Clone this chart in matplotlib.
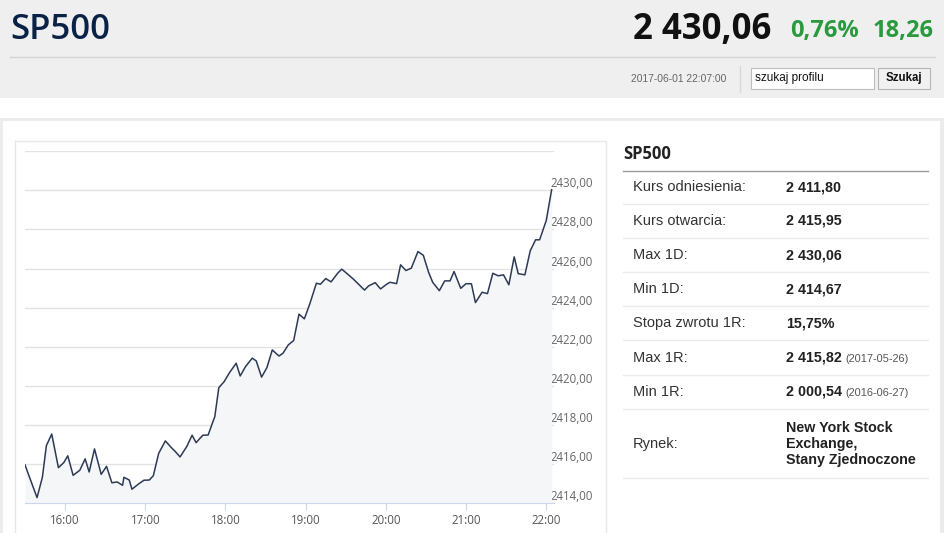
import matplotlib
matplotlib.use("Agg")
import matplotlib.pyplot as plt
from matplotlib.patches import Rectangle
from matplotlib.lines import Line2D

W, H = 945, 533

# intraday quotes, 2017-06-01
times = ["15:30", "15:39", "15:43", "15:46", "15:50", "15:55", "15:59", "16:02", "16:06", "16:11",
         "16:15", "16:18", "16:22", "16:27", "16:31", "16:35", "16:39", "16:43", "16:44", "16:48",
         "16:50", "16:55", "16:59", "17:03", "17:06", "17:10", "17:15", "17:20", "17:22", "17:26",
         "17:31", "17:35", "17:38", "17:43", "17:47", "17:50", "17:52", "17:55", "17:59", "18:03",
         "18:08", "18:11", "18:15", "18:20", "18:23", "18:27", "18:31", "18:35", "18:40", "18:43",
         "18:47", "18:51", "18:55", "18:59", "19:03", "19:08", "19:11", "19:15", "19:19", "19:24",
         "19:27", "19:32", "19:36", "19:40", "19:44", "19:47", "19:52", "19:56", "20:00", "20:03",
         "20:08", "20:11", "20:15", "20:19", "20:24", "20:28", "20:32", "20:35", "20:40", "20:44",
         "20:48", "20:51", "20:56", "21:00", "21:04", "21:07", "21:12", "21:16", "21:20", "21:24",
         "21:28", "21:32", "21:36", "21:39", "21:44", "21:48", "21:52", "21:55", "22:00", "22:04"]
prices = [2415.96, 2414.29, 2415.33, 2416.95, 2417.54, 2415.82, 2416.08, 2416.43, 2415.43, 2415.69,
          2416.27, 2415.60, 2416.78, 2415.48, 2415.89, 2415.05, 2415.09, 2414.92, 2415.33, 2415.19,
          2414.72, 2414.99, 2415.18, 2415.19, 2415.41, 2416.55, 2417.19, 2416.81, 2416.68, 2416.37,
          2416.90, 2417.48, 2417.10, 2417.48, 2417.49, 2418.06, 2418.43, 2419.91, 2420.22, 2420.68,
          2421.16, 2420.51, 2420.99, 2421.42, 2421.28, 2420.45, 2420.94, 2421.84, 2421.53, 2421.67,
          2422.10, 2422.32, 2423.67, 2423.43, 2424.18, 2425.25, 2425.20, 2425.49, 2425.32, 2425.77,
          2425.97, 2425.68, 2425.44, 2425.17, 2424.90, 2425.11, 2425.28, 2424.96, 2425.17, 2425.30,
          2425.23, 2426.19, 2425.90, 2426.02, 2426.87, 2426.68, 2425.80, 2425.30, 2424.87, 2425.37,
          2425.37, 2425.85, 2424.99, 2425.23, 2425.22, 2424.26, 2424.79, 2424.72, 2425.76, 2425.63,
          2425.68, 2425.17, 2426.60, 2425.74, 2425.68, 2426.91, 2427.47, 2427.47, 2428.46, 2430.03]

hour_ticks = [16, 17, 18, 19, 20, 21, 22]
price_ticks = [2414, 2416, 2418, 2420, 2422, 2424, 2426, 2428, 2430]

name = "SP500"
last_price = "2 430,06"
change_pct = "0,76%"
change_abs = "18,26"
stamp = "2017-06-01 22:07:00"

row_labels = ["Kurs odniesienia:", "Kurs otwarcia:", "Max 1D:", "Min 1D:",
              "Stopa zwrotu 1R:", "Max 1R:", "Min 1R:", "Rynek:"]
row_values = ["2 411,80", "2 415,95", "2 430,06", "2 414,67", "15,75%",
              "2 415,82", "2 000,54", "New York Stock\nExchange,\nStany Zjednoczone"]
row_dates = ["", "", "", "", "", "(2017-05-26)", "(2016-06-27)", ""]


def to_hours(t):
    h, m = t.split(":")
    return int(h) + int(m) / 60


def box(x, y, w, h, **kw):
    fig.add_artist(Rectangle((x / W, 1 - (y + h) / H), w / W, h / H,
                             transform=fig.transFigure, **kw))


def hline(x0, x1, y, **kw):
    fig.add_artist(Line2D([x0 / W, x1 / W], [1 - y / H, 1 - y / H],
                          transform=fig.transFigure, **kw))


def vline(x, y0, y1, **kw):
    fig.add_artist(Line2D([x / W, x / W], [1 - y0 / H, 1 - y1 / H],
                          transform=fig.transFigure, **kw))


def txt(x, y, s, **kw):
    kw.setdefault("va", "center")
    return fig.text(x / W, 1 - y / H, s, **kw)


fig = plt.figure(figsize=(W / 100, H / 100), dpi=100)
fig.patch.set_facecolor("white")

# header
box(0, 0, W, 98, facecolor="#efefef", edgecolor="none")
hline(10, 935, 57, color="#d4d4d4", lw=1)
txt(10, 30, name, fontsize=25, fontweight="semibold", color="#0b2247", family="Open Sans")
txt(633, 30, last_price, fontsize=25, fontweight="bold", color="#111111", family="Open Sans")
txt(790, 31, change_pct, fontsize=17, fontweight="bold", color="#2a9a3f", family="Open Sans")
txt(873, 31, change_abs, fontsize=17, fontweight="bold", color="#2a9a3f", family="Open Sans")
txt(631, 79, stamp, fontsize=7.4, color="#666666", family="Liberation Sans")
vline(740, 66, 92, color="#d8d8d8", lw=1)
box(751, 68, 123, 21, facecolor="white", edgecolor="#bdbdbd", lw=0.8)
txt(755, 78.5, "szukaj profilu", fontsize=8.5, color="#111111", family="Liberation Sans")
box(878, 68, 52, 21, facecolor="#f1f1f1", edgecolor="#b5b5b5", lw=0.8)
txt(904, 78.5, "Szukaj", fontsize=8.3, fontweight="bold", color="#111111",
    family="Liberation Sans", ha="center")

# card frame
box(0, 118, W, 3, facecolor="#ececec", edgecolor="none")
box(0, 118, 3, H - 118, facecolor="#ececec", edgecolor="none")
box(940, 118, 5, H - 118, facecolor="#ececec", edgecolor="none")
hline(15, 606, 141, color="#e8e8e8", lw=1)
vline(15, 141, H, color="#e8e8e8", lw=1)
vline(606, 141, H, color="#e8e8e8", lw=1)

# chart
ax = fig.add_axes([25 / W, 1 - 503.3 / H, 529.3 / W, 352.1 / H])
xs = [to_hours(t) for t in times]
ax.fill_between(xs, prices, 2414, color="#f5f6f8", lw=0)
ax.plot(xs, prices, color="#2d3a55", lw=1.1)
ax.set_xlim(15.5, 22.1)
ax.set_ylim(2414, 2432)
ax.set_yticks(price_ticks + [2432])
ax.set_yticklabels([f"{p},00" for p in price_ticks] + [""])
ax.set_xticks(hour_ticks)
ax.set_xticklabels([f"{h}:00" for h in hour_ticks])
ax.grid(axis="y", color="#e3e3e3", lw=1)
ax.set_axisbelow(True)
for s in ["top", "left", "right"]:
    ax.spines[s].set_visible(False)
ax.spines["bottom"].set_color("#ccd6eb")
ax.tick_params(axis="x", colors="#ccd6eb", length=5, labelcolor="#555555", labelsize=8.3, pad=3)
ax.tick_params(axis="y", left=False, right=False, labelleft=False, labelright=True,
               labelcolor="#666666", labelsize=8.3, pad=-6)
for lab in ax.get_xticklabels() + ax.get_yticklabels():
    lab.set_family("Open Sans")
for lab in ax.get_yticklabels():
    lab.set_va("bottom")
ax.patch.set_alpha(0)

# quote table
txt(623, 154, name, fontsize=12, fontweight="bold", color="#222222", family="Open Sans")
hline(623, 928, 170.5, color="#9a9a9a", lw=1)
row_y = [187, 221, 255, 289, 323, 357.5, 392, 444]
sep_y = [204, 238, 272, 306, 340, 375, 409, 478]
for lab, val, dt, y, sy in zip(row_labels, row_values, row_dates, row_y, sep_y):
    txt(633, y, lab, fontsize=10.5, color="#333333", family="Liberation Sans")
    txt(786, y, val, fontsize=10.3, fontweight="bold", color="#222222",
        family="Liberation Sans", linespacing=1.2)
    if dt:
        txt(845, y + 1, dt, fontsize=7.9, color="#555555", family="Liberation Sans")
    hline(623, 928, sy, color="#ebebeb", lw=1)

fig.savefig("out.png", dpi=100)
